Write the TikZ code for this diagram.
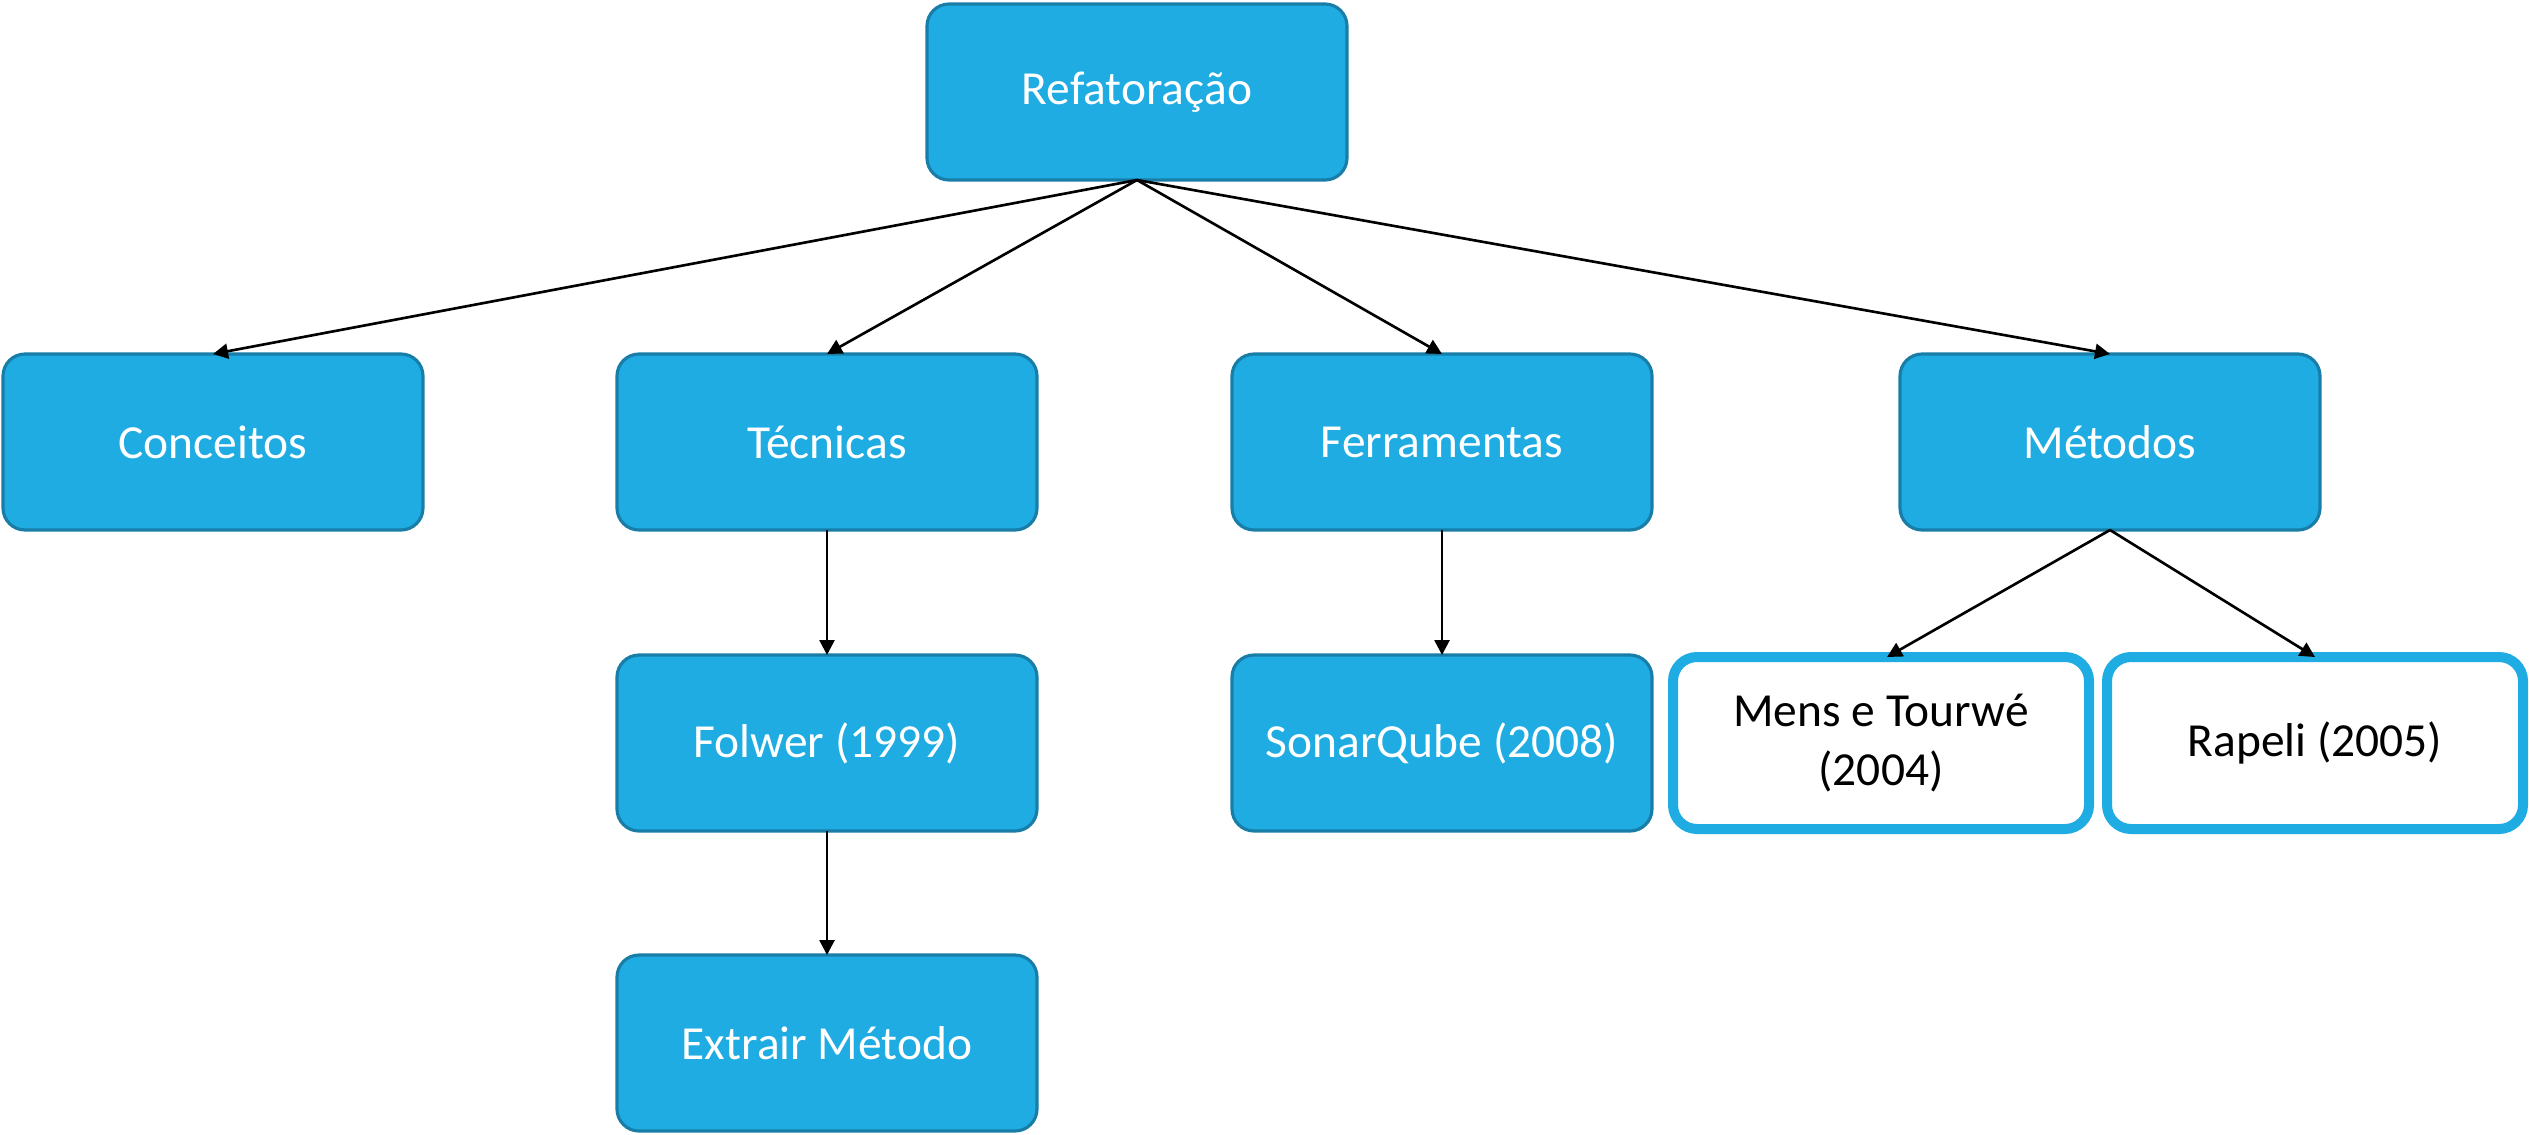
\documentclass[tikz,border=0pt]{standalone}
\usepackage{fontspec}
\setmainfont{Carlito}
\usepackage{tikz}
\usetikzlibrary{arrows.meta}
\definecolor{boxblue}{RGB}{31,172,226}
\definecolor{boxedge}{RGB}{24,126,168}

\begin{document}
\begin{tikzpicture}[
    topic/.style={draw=boxedge, line width=0.9pt, fill=boxblue, text=white,
        rounded corners=0.22cm, minimum width=4.2cm, minimum height=1.76cm,
        font=\fontsize{13.5}{17}\selectfont, align=center, outer sep=0pt},
    ref/.style={draw=boxblue, line width=0.1cm, fill=white, text=black,
        rounded corners=0.24cm, minimum width=4.16cm, minimum height=1.72cm,
        font=\fontsize{13.5}{17}\selectfont, align=center, outer sep=0pt},
    link/.style={-{Triangle[length=0.15cm,width=0.15cm]}, line width=0.75pt, black}]
    \useasboundingbox (0,0) rectangle (25.29,-11.34);

    \node[topic] (refat) at (11.37,-0.92) {Refatoração};

    \node[topic] (conc) at (2.13,-4.42) {Conceitos};
    \node[topic] (tec)  at (8.27,-4.42) {Técnicas};
    \node[topic] (ferr) at (14.42,-4.42) {Ferramentas};
    \node[topic] (met)  at (21.10,-4.42) {Métodos};

    \node[topic] (folwer) at (8.27,-7.43) {Folwer (1999)};
    \node[topic] (sonar)  at (14.42,-7.43) {SonarQube (2008)};
    \node[ref]   (mens)   at (18.81,-7.43) {Mens e Tourwé\\(2004)};
    \node[ref]   (rapeli) at (23.15,-7.43) {Rapeli (2005)};

    \node[topic] (extr) at (8.27,-10.43) {Extrair Método};

    \draw[link] (refat.south) -- (conc.north);
    \draw[link] (refat.south) -- (tec.north);
    \draw[link] (refat.south) -- (ferr.north);
    \draw[link] (refat.south) -- (met.north);
    \draw[link] (tec.south) -- (folwer.north);
    \draw[link] (folwer.south) -- (extr.north);
    \draw[link] (ferr.south) -- (sonar.north);
    \draw[link] (met.south) -- ([xshift=0.06cm]mens.north);
    \draw[link] (met.south) -- (rapeli.north);

\end{tikzpicture}
\end{document}
